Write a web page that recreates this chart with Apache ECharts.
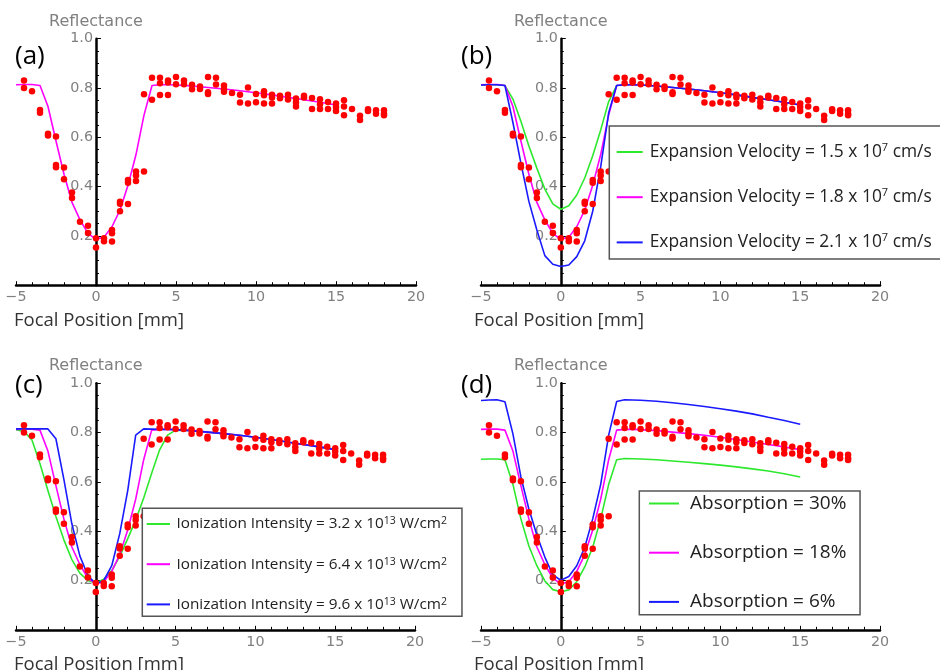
<!DOCTYPE html>
<html>
<head>
<meta charset="utf-8">
<script src="https://cdn.jsdelivr.net/npm/echarts@6/dist/echarts.min.js"></script>
<style>html,body{margin:0;padding:0;background:#fff}#c{width:940px;height:670px}</style>
</head>
<body>
<div id="c"></div>
<script>
// ---- Data ----
const xTicks = [-5, 0, 5, 10, 15, 20];
const yTicks = [0.2, 0.4, 0.6, 0.8, 1.0];
const panelLabels = ['(a)', '(b)', '(c)', '(d)'];

// measured reflectance (red dots)
const dotX = [-4.5,-4.5,-4,-3.5,-3.5,-3,-3,-2.5,-2.5,-2.5,-2,-2,-1.5,-1.5,-1,-0.5,-0.5,0,0,0.5,0.5,1,1,1,1.5,1.5,1.5,2,2,2,2.5,2.5,2.5,3,3,3.5,3.5,4,4,4,4.5,4.5,4.5,5,5,5.5,5.5,6,6,6.5,6.5,7,7,7,7.5,7.5,8,8,8,8.5,9,9,9.5,9.5,10,10,10.5,10.5,10.5,11,11,11,11.5,11.5,12,12,12.5,12.5,12.5,13,13,13.5,13.5,14,14,14,14.5,14.5,15,15,15,15.5,15.5,15.5,16,16.5,16.5,17,17,17.5,17.5,18,18,18];
const dotY = [0.83,0.80,0.787,0.711,0.70,0.614,0.607,0.603,0.488,0.479,0.477,0.43,0.376,0.354,0.257,0.241,0.212,0.19,0.153,0.19,0.178,0.224,0.211,0.177,0.339,0.33,0.30,0.427,0.416,0.329,0.461,0.445,0.423,0.775,0.461,0.842,0.752,0.842,0.819,0.772,0.830,0.822,0.772,0.845,0.815,0.830,0.815,0.813,0.795,0.806,0.796,0.845,0.783,0.776,0.842,0.814,0.81,0.795,0.785,0.78,0.773,0.741,0.802,0.737,0.776,0.742,0.787,0.771,0.737,0.773,0.761,0.737,0.769,0.758,0.773,0.753,0.757,0.741,0.725,0.769,0.761,0.759,0.715,0.754,0.734,0.715,0.743,0.715,0.737,0.723,0.707,0.75,0.725,0.689,0.715,0.687,0.67,0.714,0.707,0.71,0.696,0.71,0.696,0.689];

// model curves sampled on curveX
const curveX = [-5,-4.5,-4,-3.5,-3,-2.5,-2,-1.5,-1,-0.5,0,0.5,1,1.5,2,2.5,3,3.5,4,4.5,5,6,7,8,9,10,11,12,13,14,15];
const baseModel = [0.813,0.814,0.814,0.81,0.725,0.585,0.45,0.336,0.265,0.21,0.186,0.195,0.237,0.305,0.405,0.53,0.69,0.81,0.813,0.813,0.812,0.808,0.802,0.796,0.789,0.781,0.772,0.762,0.752,0.742,0.731];
const velSlow  = [0.812,0.813,0.813,0.81,0.755,0.665,0.565,0.475,0.39,0.33,0.308,0.322,0.366,0.435,0.525,0.63,0.745,0.81,0.813,0.813,0.812,0.808,0.802,0.796,0.789,0.781,0.772,0.762,0.752,0.742,0.731];
const velFast  = [0.812,0.813,0.813,0.81,0.66,0.495,0.34,0.224,0.12,0.085,0.076,0.082,0.116,0.18,0.30,0.48,0.70,0.81,0.813,0.813,0.812,0.808,0.802,0.796,0.789,0.781,0.772,0.762,0.752,0.742,0.731];
const ionLow   = [0.812,0.805,0.77,0.675,0.565,0.46,0.365,0.285,0.23,0.2,0.19,0.205,0.24,0.298,0.37,0.445,0.535,0.635,0.73,0.79,0.81,0.808,0.802,0.796,0.789,0.781,0.772,0.762,0.752,0.742,0.731];
const ionHigh  = [0.815,0.815,0.815,0.815,0.815,0.775,0.61,0.43,0.30,0.22,0.187,0.20,0.26,0.39,0.565,0.79,0.815,0.814,0.813,0.813,0.812,0.808,0.802,0.796,0.789,0.781,0.772,0.762,0.752,0.742,0.731];
const abs30    = [0.692,0.693,0.693,0.69,0.59,0.45,0.34,0.26,0.198,0.163,0.154,0.162,0.195,0.255,0.335,0.45,0.59,0.69,0.695,0.694,0.693,0.69,0.685,0.68,0.674,0.668,0.661,0.653,0.644,0.633,0.62];
const abs6     = [0.93,0.932,0.933,0.925,0.795,0.62,0.49,0.385,0.295,0.223,0.201,0.216,0.26,0.335,0.45,0.59,0.79,0.926,0.933,0.932,0.931,0.927,0.921,0.914,0.906,0.897,0.887,0.876,0.862,0.849,0.834];

const namesB = ['Expansion Velocity = 1.5 x 10⁷ cm/s','Expansion Velocity = 1.8 x 10⁷ cm/s','Expansion Velocity = 2.1 x 10⁷ cm/s'];
const namesC = ['Ionization Intensity = 3.2 x 10¹³ W/cm²','Ionization Intensity = 6.4 x 10¹³ W/cm²','Ionization Intensity = 9.6 x 10¹³ W/cm²'];
const namesD = ['Absorption = 30%','Absorption = 18%','Absorption = 6%'];
const richB = ['{f|Expansion Velocity = 1.5 x 10}{s|7}{t| cm/s}','{f|Expansion Velocity = 1.8 x 10}{s|7}{t| cm/s}','{f|Expansion Velocity = 2.1 x 10}{s|7}{t| cm/s}'];
const richC = ['{f|Ionization Intensity = 3.2 x 10}{s|13}{t| W/cm}{s|2}','{f|Ionization Intensity = 6.4 x 10}{s|13}{t| W/cm}{s|2}','{f|Ionization Intensity = 9.6 x 10}{s|13}{t| W/cm}{s|2}'];
const richD = ['{f|Absorption = 30%}','{f|Absorption = 18%}','{f|Absorption = 6%}'];

// ---- Styling / layout ----
const GREEN = '#2ee82e', MAGENTA = '#ff00ff', BLUE = '#1a1aff', RED = '#ff0000';
const GRAY = '#808080';
const grids = [
  {left: 16, top: 38.7, width: 400, height: 246.5},
  {left: 481, top: 38.7, width: 399, height: 246.5},
  {left: 16, top: 383.3, width: 399, height: 246.5},
  {left: 481, top: 383.3, width: 399, height: 246.5}
].map(g => Object.assign(g, {containLabel: false, outerBoundsMode: 'none'}));
const labelPos = [[15, 44], [461, 44], [15, 373], [461, 373]];
const axisTitlePos = [[14, 311], [474, 311], [14, 655], [474, 655]];

const xMin = xTicks[0], xMax = xTicks[xTicks.length - 1];
const xAxes = grids.map((g, i) => ({
  gridIndex: i, type: 'value', min: xMin, max: xMax, interval: 5,
  axisLine: {onZero: false, lineStyle: {color: '#000', width: 2.5}},
  axisTick: {inside: true, length: 4, lineStyle: {color: '#000', width: 1}},
  minorTick: {show: true, splitNumber: 5, length: 3, lineStyle: {color: '#000', width: 1}},
  splitLine: {show: false},
  axisLabel: {margin: 5, color: GRAY, fontSize: 14.3, fontFamily: 'DejaVu Sans',
    formatter: v => (v < 0 ? '\u2212' + Math.abs(v) : String(v))}
}));
// the y axis crosses the x axis at x = 0: shift it from the grid's left edge by the scale position of 0
const yAxes = grids.map((g, i) => ({
  gridIndex: i, type: 'value', min: 0, max: 1, interval: 0.2, position: 'left',
  offset: -((0 - xMin) / (xMax - xMin)) * g.width,
  name: 'Reflectance', nameLocation: 'end', nameGap: 9,
  nameTextStyle: {color: GRAY, fontSize: 16, fontFamily: 'DejaVu Sans', align: 'center'},
  axisLine: {onZero: false, lineStyle: {color: '#000', width: 2.5}},
  axisTick: {inside: true, length: 5, lineStyle: {color: '#000', width: 1}},
  minorTick: {show: true, splitNumber: 4, length: 3, lineStyle: {color: '#000', width: 1}},
  splitLine: {show: false},
  axisLabel: {margin: 3, color: GRAY, fontSize: 14.3, fontFamily: 'DejaVu Sans',
    formatter: v => (yTicks.some(t => Math.abs(t - v) < 1e-9) ? v.toFixed(1) : '')}
}));

const pts = vals => curveX.map((x, i) => [x, vals[i]]);
const line = (name, idx, vals, color) => ({
  name, type: 'line', xAxisIndex: idx, yAxisIndex: idx, data: pts(vals),
  showSymbol: false, symbol: 'none', smooth: false, z: 2,
  lineStyle: {color, width: 1.6}, itemStyle: {color}
});
const scatter = idx => ({
  type: 'scatter', xAxisIndex: idx, yAxisIndex: idx, z: 3,
  data: dotX.map((x, i) => [x, dotY[i]]), symbolSize: 6.5,
  itemStyle: {color: RED, opacity: 1}
});

const series = [
  line('model a', 0, baseModel, MAGENTA), scatter(0),
  line(namesB[0], 1, velSlow, GREEN), line(namesB[1], 1, baseModel, MAGENTA), line(namesB[2], 1, velFast, BLUE), scatter(1),
  line(namesC[0], 2, ionLow, GREEN), line(namesC[1], 2, baseModel, MAGENTA), line(namesC[2], 2, ionHigh, BLUE), scatter(2),
  line(namesD[0], 3, abs30, GREEN), line(namesD[1], 3, baseModel, MAGENTA), line(namesD[2], 3, abs6, BLUE), scatter(3)
];

function makeLegend(names, rich, o) {
  const map = {};
  names.forEach((n, i) => map[n] = rich[i]);
  return {
    data: names, orient: 'vertical', left: o.left, top: o.top, padding: o.padding,
    itemGap: o.gap, itemWidth: o.iw, itemHeight: 2, icon: 'rect', selectedMode: false,
    borderColor: '#555', borderWidth: 1.5, backgroundColor: '#fff', z: 10,
    formatter: n => map[n],
    textStyle: {
      color: '#222', fontFamily: 'Open Sans', fontSize: o.fs,
      rich: {
        f: {fontFamily: 'Open Sans', fontSize: o.fs, color: '#222', lineHeight: o.lh, padding: [0, 0, 0, o.tp]},
        t: {fontFamily: 'Open Sans', fontSize: o.fs, color: '#222', lineHeight: o.lh},
        s: {fontFamily: 'Open Sans', fontSize: o.ss, color: '#222', lineHeight: o.ss + 1, verticalAlign: 'top'}
      }
    }
  };
}

const option = {
  animation: false,
  backgroundColor: '#fff',
  grid: grids,
  xAxis: xAxes,
  yAxis: yAxes,
  title: [
    ...panelLabels.map((t, i) => ({text: t, left: labelPos[i][0], top: labelPos[i][1], padding: 0,
      textStyle: {fontFamily: 'Open Sans', fontSize: 26, fontWeight: 'normal', color: '#000'}})),
    ...axisTitlePos.map(p => ({text: 'Focal Position [mm]', left: p[0], top: p[1], padding: 0,
      textStyle: {fontFamily: 'Open Sans', fontSize: 18.5, fontWeight: 'normal', color: '#333'}}))
  ],
  legend: [
    makeLegend(namesB, richB, {left: 609.3, top: 126, padding: [16, 12, 8, 7.4], gap: 26.7, iw: 26, fs: 17.4, lh: 20, ss: 11, tp: 2}),
    makeLegend(namesC, richC, {left: 142.3, top: 508.3, padding: [7.7, 15, 4.4, 4.4], gap: 24.7, iw: 23.3, fs: 15.3, lh: 16, ss: 10.5, tp: 1.5}),
    makeLegend(namesD, richD, {left: 639.3, top: 491, padding: [3, 13.7, 3.4, 9.7], gap: 30.2, iw: 30, fs: 19, lh: 20, ss: 11, tp: 6})
  ],
  series
};

const chart = echarts.init(document.getElementById('c'), null, {renderer: 'canvas'});
chart.setOption(option);
</script>
</body>
</html>
